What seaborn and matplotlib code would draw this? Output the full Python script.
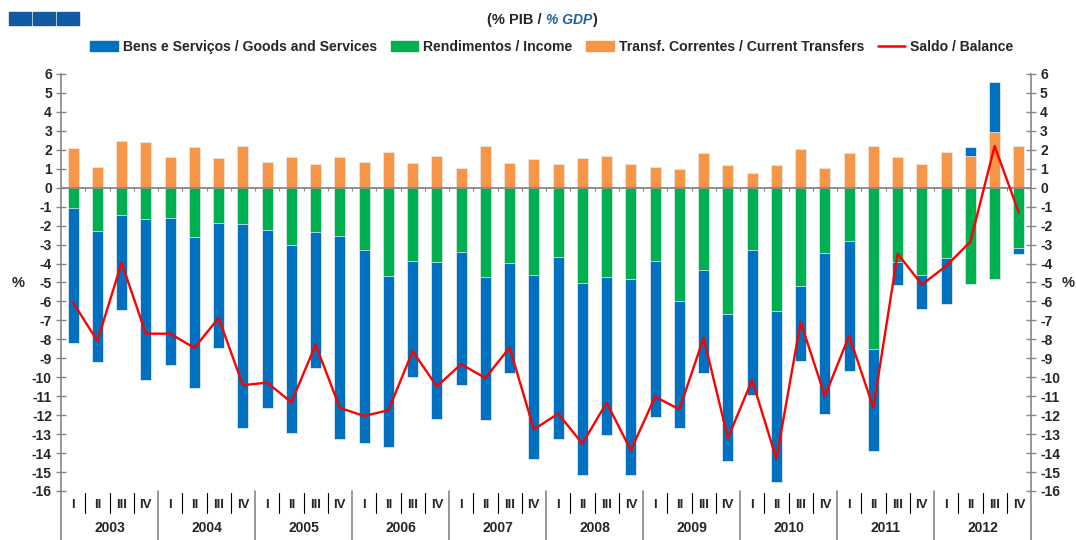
import numpy as np
import pandas as pd
import matplotlib
matplotlib.use("Agg")
import matplotlib.pyplot as plt
import matplotlib.transforms as mtransforms
from matplotlib.patches import Patch, Rectangle
from matplotlib.lines import Line2D
import seaborn as sns

years = [str(y) for y in range(2003, 2013)]
quarters = ["I", "II", "III", "IV"]

# % of GDP (2003 Q1 .. 2012 Q4)
goods = [-7.13, -6.90, -5.02, -8.45, -7.77, -7.96, -6.57, -10.75,
         -9.39, -9.92, -7.19, -10.69, -10.18, -9.04, -6.09, -8.26,
         -7.04, -7.53, -5.76, -9.72, -9.58, -10.11, -8.35, -10.32,
         -8.22, -6.68, -5.45, -7.74, -7.70, -9.03, -3.94, -8.48,
         -6.86, -5.40, -1.18, -1.83, -2.41, 0.44, 2.64, -0.32]
income = [-1.06, -2.29, -1.44, -1.67, -1.60, -2.60, -1.88, -1.93,
          -2.23, -3.04, -2.32, -2.55, -3.29, -4.66, -3.89, -3.92,
          -3.38, -4.71, -3.99, -4.59, -3.66, -5.03, -4.71, -4.82,
          -3.88, -6.00, -4.33, -6.66, -3.26, -6.48, -5.20, -3.47,
          -2.82, -8.49, -3.93, -4.58, -3.70, -5.06, -4.84, -3.20]
transfers = [2.08, 1.07, 2.46, 2.39, 1.62, 2.13, 1.57, 2.18,
             1.35, 1.62, 1.23, 1.62, 1.34, 1.90, 1.28, 1.67,
             1.06, 2.18, 1.28, 1.50, 1.23, 1.55, 1.67, 1.23,
             1.07, 0.97, 1.85, 1.18, 0.77, 1.18, 2.06, 1.02,
             1.85, 2.22, 1.62, 1.23, 1.88, 1.69, 2.92, 2.18]
balance = [-6.06, -8.08, -3.96, -7.70, -7.70, -8.45, -6.87, -10.42,
           -10.28, -11.32, -8.28, -11.62, -12.04, -11.74, -8.63, -10.48,
           -9.31, -10.04, -8.43, -12.75, -11.92, -13.50, -11.34, -13.85,
           -11.03, -11.69, -7.92, -13.21, -10.14, -14.31, -7.08, -10.99,
           -7.81, -11.60, -3.48, -5.11, -4.13, -2.85, 2.20, -1.32]

BLUE = "#0070C0"
GREEN = "#00B050"
ORANGE = "#F79646"
RED = "#FF0000"
GREY = "#868686"

sns.set_style("white")
plt.rcParams["font.family"] = ["Liberation Sans", "DejaVu Sans"]
plt.rcParams["axes.unicode_minus"] = False

df = pd.DataFrame({"q": np.arange(len(goods)), "goods": goods, "income": income,
                   "transfers": transfers, "balance": balance})
# stacked totals: positives stack on transfers, negatives on income
df["pos_stack"] = df["transfers"] + df["goods"].clip(lower=0)
df["neg_stack"] = df["income"] + df["goods"].clip(upper=0)
n = len(df)

fig = plt.figure(figsize=(10.76, 5.4), dpi=100)
ax = fig.add_axes([61 / 1076, 1 - 491 / 540, 970 / 1076, 417 / 540])

bar_kw = dict(x="q", data=df, width=0.46, saturation=1, errorbar=None, ax=ax,
              edgecolor="#f2f2f2", linewidth=0.5)
sns.barplot(y="pos_stack", color=BLUE, **bar_kw)
sns.barplot(y="transfers", color=ORANGE, **bar_kw)
sns.barplot(y="neg_stack", color=BLUE, **bar_kw)
sns.barplot(y="income", color=GREEN, **bar_kw)
sns.lineplot(x="q", y="balance", data=df, color=RED, lw=1.7, ax=ax, zorder=5)

ax.axhline(0, color=GREY, lw=1.3, zorder=4)
ax.vlines(df["q"][:-1] + 0.5, -0.15, 0, color=GREY, lw=0.8, zorder=4)

ax.set_xlim(-0.5, n - 0.5)
ax.set_ylim(-16, 6)
ax.set_yticks(range(-16, 7))
ax.set_xticks([])
ax.set_xlabel("")
ax.set_ylabel("")
ax.spines[["top", "bottom"]].set_visible(False)
for side in ["left", "right"]:
    ax.spines[side].set_color(GREY)
    ax.spines[side].set_linewidth(1.2)
ax.tick_params(axis="y", left=True, right=True, labelleft=True, labelright=True,
               direction="inout", length=7, width=1, color=GREY, pad=3, labelsize=10)
for lab in ax.get_yticklabels():
    lab.set_fontweight("bold")

# category axis below the plot
trans = mtransforms.blended_transform_factory(ax.transData, ax.transAxes)
for k in range(n + 1):
    xb = k - 0.5
    if k % 4 == 0:
        ax.plot([xb, xb], [0, -0.12], color=GREY, lw=1.2, transform=trans, clip_on=False)
    else:
        ax.plot([xb, xb], [-0.004, -0.053], color="black", lw=0.8, transform=trans, clip_on=False)
for i in range(n):
    ax.text(i, -0.034, quarters[i % 4], transform=trans, ha="center", va="center",
            fontsize=9.5, fontweight="bold")
for j, y in enumerate(years):
    ax.text(4 * j + 1.5, -0.089, y, transform=trans, ha="center", va="center",
            fontsize=10, fontweight="bold")

fig.text(18 / 1076, 1 - 283 / 540, "%", ha="center", va="center", fontsize=10.5, fontweight="bold")
fig.text(1068 / 1076, 1 - 283 / 540, "%", ha="center", va="center", fontsize=10.5, fontweight="bold")

handles = [Patch(color=BLUE, label="Bens e Serviços / Goods and Services"),
           Patch(color=GREEN, label="Rendimentos / Income"),
           Patch(color=ORANGE, label="Transf. Correntes / Current Transfers"),
           Line2D([], [], color=RED, lw=1.8, label="Saldo / Balance")]
fig.legend(handles=handles, loc="center", bbox_to_anchor=(552 / 1076, 1 - 47 / 540), ncol=4,
           frameon=False, handlelength=1.95, handleheight=0.7,
           handletextpad=0.35, columnspacing=1.0, borderpad=0, prop={"weight": "bold", "size": 10.1})

# subtitle with the blue GDP part
t1 = fig.text(487 / 1076, 1 - 20 / 540, "(% PIB / ", ha="left", va="center", fontsize=10.5, fontweight="bold")
t2 = ax.annotate("% GDP", xy=(1, 0), xycoords=t1, va="bottom", ha="left", fontsize=10,
                 fontweight="bold", fontstyle="italic", color="#1F5FA0")
ax.annotate(")", xy=(1, 0), xycoords=t2, va="bottom", ha="left", fontsize=10.5, fontweight="bold")

# logo squares top-left
for x0 in [9, 33, 57]:
    fig.patches.append(Rectangle((x0 / 1076, 1 - 25 / 540), 22 / 1076, 13 / 540,
                                 transform=fig.transFigure, color="#0F5AA0"))

fig.savefig("out.png", dpi=100)
